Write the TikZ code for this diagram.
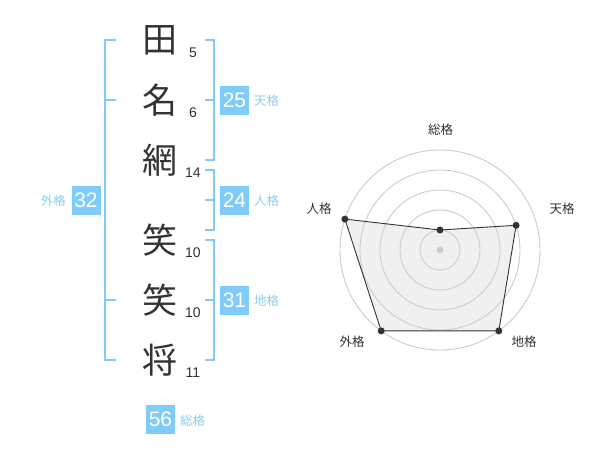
\documentclass[tikz,border=0pt]{standalone}
\usepackage{fontspec}
\setmainfont{Liberation Sans}
\newfontfamily\jp{Noto Sans CJK JP}
\definecolor{brk}{RGB}{128,204,248}
\definecolor{boxc}{RGB}{128,204,248}
\definecolor{lbl}{RGB}{140,206,242}
\definecolor{ink}{RGB}{51,51,51}
\definecolor{ring}{RGB}{204,204,204}
\begin{document}
\begin{tikzpicture}[x=1pt,y=-1pt,
  kanji/.style={inner sep=0pt,text=ink,font=\jp\fontsize{35}{38}\selectfont},
  strokes/.style={inner sep=0pt,text=ink,font=\fontsize{14}{16}\selectfont},
  numbox/.style={fill=boxc,text=white,minimum width=29pt,minimum height=29pt,inner sep=0pt,font=\fontsize{21}{24}\selectfont},
  kaku/.style={inner sep=0pt,text=lbl,font=\jp\fontsize{12.5}{14}\selectfont},
  bracket/.style={draw=brk,line width=2pt},
  radlbl/.style={inner sep=0pt,text=ink,font=\jp\fontsize{12.5}{14}\selectfont},
  dot/.style={circle,fill=ink,inner sep=0pt,minimum size=7pt}]
\path[use as bounding box,fill=white] (0,0) rectangle (600,470);
% kanji
\node[kanji] (k1) at (160,40) {田};
\node[kanji] (k2) at (160,100) {名};
\node[kanji] (k3) at (160,160) {網};
\node[kanji] (k4) at (160,240) {笑};
\node[kanji] (k5) at (160,300) {笑};
\node[kanji] (k6) at (160,360) {将};
\node[strokes] (s1) at (193,52.5) {5};
\node[strokes] (s2) at (193,112.5) {6};
\node[strokes] (s3) at (193,172.5) {14};
\node[strokes] (s4) at (193,252.5) {10};
\node[strokes] (s5) at (193,312.5) {10};
\node[strokes] (s6) at (193,372.5) {11};
% brackets
\draw[bracket] (116,40) -- (105,40) -- (105,360) -- (116,360);
\draw[bracket] (105,100) -- (116,100);
\draw[bracket] (105,300) -- (116,300);
\draw[bracket] (205,40) -- (214,40) -- (214,160) -- (205,160);
\draw[bracket] (205,100) -- (214,100);
\draw[bracket] (205,170) -- (214,170) -- (214,230) -- (205,230);
\draw[bracket] (205,200) -- (214,200);
\draw[bracket] (205,240) -- (214,240) -- (214,360) -- (205,360);
\draw[bracket] (205,300) -- (214,300);
% boxes
\node[numbox] (b25) at (234.5,100.5) {25};
\node[kaku,anchor=west] (l25) at (254,101) {天格};
\node[numbox] (b24) at (234.5,200.5) {24};
\node[kaku,anchor=west] (l24) at (254,201) {人格};
\node[numbox] (b31) at (234.5,300.5) {31};
\node[kaku,anchor=west] (l31) at (254,301) {地格};
\node[numbox] (b32) at (86,200.5) {32};
\node[kaku,anchor=east] (l32) at (66,201) {外格};
\node[numbox] (b56) at (160.5,419.5) {56};
\node[kaku,anchor=west] (l56) at (180,421) {総格};
% radar
\coordinate (c) at (440,250);
\coordinate (pA) at (440,230);
\coordinate (pB) at (516.1,225.3);
\coordinate (pC) at (498.8,330.9);
\coordinate (pD) at (381.2,330.9);
\coordinate (pE) at (344.9,219.1);
\fill[black!6] (pA) -- (pB) -- (pC) -- (pD) -- (pE) -- cycle;
\foreach \r in {20,40,60,80,100} \draw[ring,line width=0.9pt] (c) circle[radius=\r];
\node[circle,fill=ring,inner sep=0pt,minimum size=7pt] (cd) at (c) {};
\draw[ink,line width=0.9pt] (pA) -- (pB) -- (pC) -- (pD) -- (pE) -- cycle;
\node[dot] (dA) at (pA) {};
\node[dot] (dB) at (pB) {};
\node[dot] (dC) at (pC) {};
\node[dot] (dD) at (pD) {};
\node[dot] (dE) at (pE) {};
\node[radlbl] (rA) at (440.7,130) {総格};
\node[radlbl] (rB) at (562,208.5) {天格};
\node[radlbl] (rC) at (524,342) {地格};
\node[radlbl] (rD) at (352,342) {外格};
\node[radlbl] (rE) at (319,208.5) {人格};
\end{tikzpicture}
\end{document}
